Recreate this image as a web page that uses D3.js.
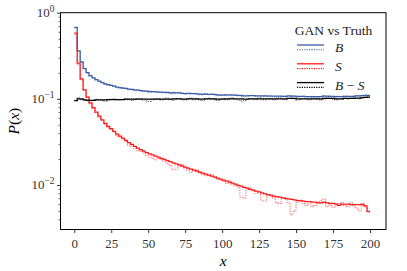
<!DOCTYPE html>
<html><head><meta charset="utf-8">
<script src="https://cdn.jsdelivr.net/npm/d3@7"></script>
<style>body{margin:0;background:#fff}svg{display:block}</style>
</head><body>
<script>
// Bin edges: 100 bins of width 2 from 0 to 200
const binWidth = 2;
const binStart = 0;
// Solid = GAN, dotted = Truth
const ganS = [0.58,0.26,0.17,0.127,0.105,0.09,0.079,0.07,0.063,0.057,
0.052,0.048,0.045,0.042,0.039,0.037,0.035,0.033,0.031,0.0295,
0.028,0.0268,0.0257,0.0247,0.0238,0.023,0.0223,0.0216,0.021,0.0204,
0.0198,0.0192,0.0186,0.0181,0.0176,0.0171,0.0166,0.0161,0.0157,0.0153,
0.0149,0.0145,0.0141,0.0137,0.0134,0.013,0.0127,0.0123,0.012,0.0117,
0.0114,0.0111,0.0108,0.0105,0.0102,0.0099,0.0097,0.0094,0.0092,0.0089,
0.0087,0.0085,0.0083,0.0081,0.0079,0.0077,0.0076,0.0074,0.0073,0.0072,
0.0071,0.007,0.0069,0.0068,0.0067,0.0066,0.0066,0.0065,0.0064,0.0064,
0.0063,0.0063,0.0062,0.0062,0.0063,0.0062,0.0061,0.0061,0.006,0.0058,
0.006,0.006,0.006,0.0059,0.0059,0.0059,0.0059,0.006,0.0057,0.0049];
const truthS = [0.56,0.25,0.165,0.125,0.104,0.088,0.078,0.069,0.061,0.056,
0.050,0.046,0.044,0.041,0.037,0.036,0.034,0.032,0.029,0.028,
0.0265,0.025,0.0245,0.0235,0.022,0.021,0.0205,0.0195,0.0205,0.0195,
0.0188,0.0178,0.0168,0.0150,0.0152,0.0168,0.0172,0.0158,0.0148,0.0140,
0.0145,0.0150,0.0138,0.0132,0.0128,0.0130,0.0132,0.0126,0.0116,0.0115,
0.0110,0.0104,0.0112,0.0100,0.0098,0.0094,0.0072,0.0070,0.0088,0.0092,
0.0086,0.0080,0.0083,0.0066,0.0065,0.0076,0.0074,0.0071,0.0062,0.0061,
0.0071,0.0068,0.0062,0.0045,0.0050,0.0063,0.0067,0.0061,0.0058,0.0060,
0.0056,0.0058,0.0062,0.0066,0.0068,0.0056,0.0059,0.0055,0.0057,0.0061,
0.0063,0.0058,0.0056,0.0062,0.0057,0.0054,0.0050,0.0058,0.0055,0.0050];
const ganBS = [0.095,0.100,0.099,0.097,0.096,0.096,0.096,0.097,0.097,0.097,
0.097,0.098,0.098,0.098,0.098,0.098,0.098,0.099,0.099,0.099,
0.099,0.099,0.099,0.099,0.099,0.099,0.099,0.099,0.099,0.099,
0.099,0.099,0.099,0.100,0.100,0.100,0.099,0.099,0.100,0.100,
0.100,0.100,0.099,0.099,0.100,0.100,0.100,0.100,0.099,0.099,
0.099,0.100,0.100,0.100,0.100,0.100,0.100,0.099,0.099,0.100,
0.100,0.100,0.100,0.100,0.100,0.100,0.100,0.100,0.100,0.100,
0.100,0.100,0.101,0.101,0.101,0.100,0.100,0.100,0.100,0.100,
0.100,0.100,0.100,0.100,0.101,0.101,0.101,0.101,0.100,0.100,
0.100,0.101,0.101,0.101,0.101,0.102,0.102,0.103,0.104,0.105];
const truthBS = [0.096,0.103,0.101,0.098,0.097,0.095,0.096,0.099,0.098,0.096,
0.094,0.097,0.099,0.100,0.098,0.097,0.099,0.100,0.098,0.096,
0.098,0.101,0.100,0.097,0.095,0.093,0.098,0.100,0.101,0.097,
0.099,0.102,0.098,0.096,0.100,0.101,0.099,0.097,0.100,0.102,
0.098,0.100,0.097,0.095,0.099,0.102,0.100,0.098,0.096,0.099,
0.101,0.098,0.100,0.103,0.099,0.097,0.094,0.095,0.099,0.101,
0.100,0.098,0.102,0.099,0.097,0.100,0.101,0.098,0.099,0.102,
0.100,0.098,0.101,0.103,0.100,0.097,0.099,0.101,0.100,0.098,
0.102,0.100,0.099,0.097,0.100,0.103,0.101,0.099,0.098,0.101,
0.100,0.102,0.099,0.101,0.103,0.101,0.100,0.103,0.105,0.104];
const ganB = [0.675,0.36,0.269,0.224,0.201,0.186,0.175,0.167,0.160,0.154,
0.149,0.146,0.143,0.140,0.137,0.135,0.133,0.132,0.130,0.1285,
0.127,0.1258,0.1247,0.1237,0.1228,0.122,0.1213,0.1206,0.120,0.1194,
0.1188,0.1182,0.1176,0.1181,0.1176,0.1171,0.1156,0.1151,0.1157,0.1153,
0.1149,0.1145,0.1131,0.1127,0.1134,0.113,0.1127,0.1123,0.111,0.1107,
0.1104,0.1111,0.1108,0.1105,0.1102,0.1099,0.1097,0.1084,0.1082,0.1089,
0.1087,0.1085,0.1083,0.1081,0.1079,0.1077,0.1076,0.1074,0.1073,0.1072,
0.1071,0.107,0.1079,0.1078,0.1077,0.1066,0.1066,0.1065,0.1064,0.1064,
0.1063,0.1063,0.1062,0.1062,0.1073,0.1072,0.1071,0.1071,0.106,0.1058,
0.106,0.107,0.107,0.1069,0.1069,0.1079,0.1079,0.109,0.1097,0.1099];
const truthB = [0.66,0.355,0.265,0.226,0.199,0.183,0.176,0.166,0.158,0.155,
0.147,0.144,0.144,0.141,0.135,0.133,0.134,0.131,0.128,0.127,
0.125,0.126,0.125,0.122,0.120,0.118,0.121,0.122,0.121,0.118,
0.119,0.121,0.117,0.114,0.117,0.119,0.117,0.114,0.115,0.117,
0.116,0.113,0.111,0.113,0.115,0.112,0.114,0.111,0.109,0.110,
0.112,0.109,0.111,0.113,0.110,0.108,0.106,0.107,0.110,0.109,
0.110,0.107,0.109,0.106,0.107,0.108,0.110,0.106,0.104,0.107,
0.108,0.105,0.107,0.109,0.107,0.104,0.106,0.108,0.106,0.105,
0.107,0.105,0.104,0.107,0.109,0.106,0.108,0.105,0.104,0.107,
0.106,0.108,0.107,0.105,0.108,0.109,0.107,0.110,0.111,0.109];

const xTicks = [0,25,50,75,100,125,150,175,200];
const yTicks = [1,0.1,0.01];
const yTickExp = ["0","\u22121","\u22122"];
const legendTitle = "GAN vs Truth";
const legendLabels = [["B"],["S"],["B"," \u2212 ","S"]];
const colors = ["#3d5ea8","#ff1a1a","#000000"];

const W = 407, H = 271;
const L = 60.5, R = 386, T = 12.7, B = 229.5;
const svg = d3.select("body").append("svg").attr("width",W).attr("height",H);
const x = d3.scaleLinear().domain([-9.3,210.8]).range([L,R]);
const y = d3.scaleLog().domain([0.00304,1]).range([B,T]);
const font = "'Liberation Serif','DejaVu Serif',serif";

function pts(arr){
  const p = arr.map((v,i)=>[binStart+i*binWidth,v]);
  p.push([binStart+arr.length*binWidth, arr[arr.length-1]]);
  return p;
}
const line = d3.line().x(d=>x(d[0])).y(d=>y(d[1])).curve(d3.curveStepAfter);

const g = svg.append("g");
g.append("defs").append("clipPath").attr("id","clip").append("rect")
  .attr("x",L).attr("y",T).attr("width",R-L).attr("height",B-T);
const plot = g.append("g").attr("clip-path","url(#clip)");

const series = [
  {d:truthB,c:colors[0],dot:true},{d:truthS,c:colors[1],dot:true},{d:truthBS,c:colors[2],dot:true},
  {d:ganB,c:colors[0],dot:false},{d:ganS,c:colors[1],dot:false},{d:ganBS,c:colors[2],dot:false}
];
[[0,3],[1,4],[2,5]].forEach(([a,b])=>{
  [series[b],series[a]].forEach(s=>{
    plot.append("path").attr("d",line(pts(s.d))).attr("fill","none")
      .attr("stroke",s.c).attr("stroke-width",s.dot?1.1:1.25)
      .attr("stroke-opacity",s.dot?0.6:1)
      .attr("stroke-dasharray",s.dot?"1.2,1.2":null);
  });
});

// spines
g.append("rect").attr("x",L).attr("y",T).attr("width",R-L).attr("height",B-T)
  .attr("fill","none").attr("stroke","#000").attr("stroke-width",1);

// x axis
const xa = g.append("g").attr("transform",`translate(0,${B})`)
  .call(d3.axisBottom(x).tickValues(xTicks).tickSize(3.5).tickPadding(4).tickFormat(d3.format("d")));
xa.select(".domain").remove();
xa.selectAll("text").attr("font-family",font).attr("font-size",13).attr("fill","#333").attr("dy","0.85em");
xa.selectAll("line").attr("stroke-width",0.8);

// y axis major
const ya = g.append("g").attr("transform",`translate(${L},0)`)
  .call(d3.axisLeft(y).tickValues(yTicks).tickSize(3.5).tickFormat(""));
ya.select(".domain").remove();
ya.selectAll("line").attr("stroke-width",0.8);
// minor
const minor = [];
[0.001,0.01,0.1].forEach(dec=>{for(let k=2;k<=9;k++){const v=dec*k; if(v>=0.00304&&v<=1) minor.push(v);}});
g.append("g").attr("transform",`translate(${L},0)`)
  .call(d3.axisLeft(y).tickValues(minor).tickSize(2).tickFormat(""))
  .call(s=>{s.select(".domain").remove(); s.selectAll("line").attr("stroke-width",0.6);});
// y tick labels
yTicks.forEach((v,i)=>{
  const t = g.append("text").attr("x",L-6).attr("y",y(v)+4.5).attr("text-anchor","end")
    .attr("font-family",font).attr("font-size",13).attr("fill","#333");
  t.append("tspan").text("10");
  t.append("tspan").attr("dy",-5.5).attr("font-size",9.5).text(yTickExp[i]);
});

// axis labels
g.append("text").attr("x",(L+R)/2).attr("y",266).attr("text-anchor","middle")
  .attr("font-family",font).attr("font-style","italic").attr("font-size",15.5).text("x");
g.append("text").attr("transform",`translate(19,${(T+B)/2}) rotate(-90)`).attr("text-anchor","middle")
  .attr("font-family",font).attr("font-size",15.5)
  .call(t=>{t.append("tspan").attr("font-style","italic").text("P");
            t.append("tspan").text("(");
            t.append("tspan").attr("font-style","italic").text("x");
            t.append("tspan").text(")");});

// legend
const lg = g.append("g");
lg.append("text").attr("x",333.5).attr("y",34.5).attr("text-anchor","middle")
  .attr("font-family",font).attr("font-size",13.5).attr("fill","#222").text(legendTitle);
legendLabels.forEach((parts,i)=>{
  const yy = 45 + i*18.8;
  lg.append("line").attr("x1",297).attr("x2",324).attr("y1",yy).attr("y2",yy)
    .attr("stroke",colors[i]).attr("stroke-width",1.3);
  lg.append("line").attr("x1",297).attr("x2",324).attr("y1",yy+4.8).attr("y2",yy+4.8)
    .attr("stroke",colors[i]).attr("stroke-width",1.1).attr("stroke-dasharray","1.2,1.2");
  const t = lg.append("text").attr("x",335).attr("y",yy+7).attr("font-family",font)
    .attr("font-size",13.5).attr("fill","#222").attr("xml:space","preserve");
  parts.forEach(p=>{
    t.append("tspan").attr("font-style",p.includes("\u2212")?"normal":"italic").text(p);
  });
});
</script>
</body></html>
